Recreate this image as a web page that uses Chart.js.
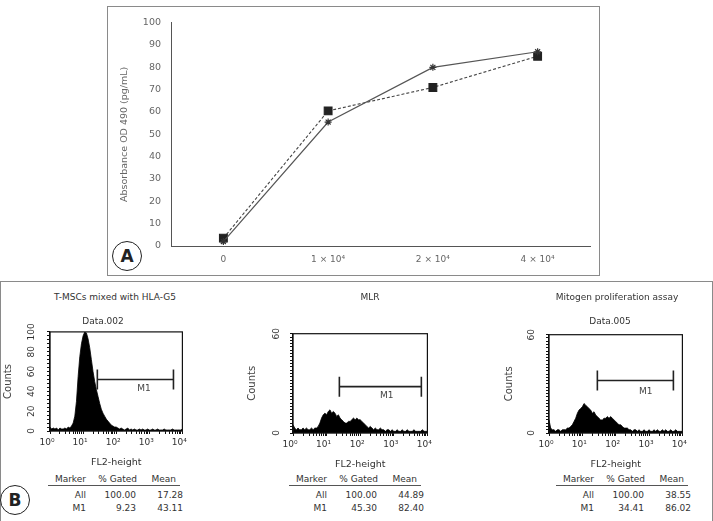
<!DOCTYPE html>
<html>
<head>
<meta charset="utf-8">
<script src="https://cdn.jsdelivr.net/npm/chart.js@4.4.1/dist/chart.umd.min.js"></script>
<style>
  body { margin: 0; background: #fff; }
  #fig { position: relative; width: 713px; height: 521px; overflow: hidden; font-family: "DejaVu Sans", sans-serif; color: #333; background: #fff; }
  canvas { position: absolute; }
  .box { position: absolute; border: 1px solid #8a8a8a; }
  .circ { position: absolute; width: 28px; height: 28px; border: 1.5px solid #222; border-radius: 50%; font: bold 17px "DejaVu Sans", sans-serif; text-align: center; line-height: 28px; color: #222; background: #fff; }
  .t { position: absolute; font-size: 9px; white-space: nowrap; transform: translate(-50%, -50%); }
  .r { position: absolute; font-size: 9px; white-space: nowrap; transform: translate(-100%, -50%); }
  .rule { position: absolute; height: 0; border-top: 1px solid #555; }
</style>
</head>
<body>
<div id="fig">
  <div class="box" style="left:107px;top:6px;width:491px;height:268px;"></div>
  <div class="box" style="left:0px;top:281px;width:711px;height:260px;"></div>

  <canvas id="chartA" width="490" height="267" style="left:108px;top:7px;"></canvas>
  <div class="circ" style="left:112px;top:241px;">A</div>

  <canvas id="histHLA" width="194" height="151" style="left:0px;top:320px;"></canvas>
  <canvas id="histMLR" width="196" height="152" style="left:243px;top:321px;"></canvas>
  <canvas id="histMito" width="195" height="152" style="left:499px;top:321px;"></canvas>

  <div class="t" style="left:115px;top:297px;">T-MSCs mixed with HLA-G5</div>
  <div class="t" style="left:103px;top:321px;">Data.002</div>
  <div class="t" style="left:370px;top:297px;">MLR</div>
  <div class="t" style="left:617px;top:297px;">Mitogen proliferation assay</div>
  <div class="t" style="left:610px;top:321px;">Data.005</div>

  <div id="tables"></div>
  <div class="circ" style="left:0px;top:485px;">B</div>
</div>

<script>
// Panel A: absorbance vs cell number
const doses = ['0', '1 × 10⁴', '2 × 10⁴', '4 × 10⁴'];
const absStar = [2, 55.5, 80, 87];
const absSquare = [3.5, 60.5, 71, 85];

// Panel B: flow histograms, bins every 0.05 decade from 10^0 to 10^4
const decadeLabels = ['10⁰', '10¹', '10²', '10³', '10⁴'];
const binStep = 0.05;
const countsHLA = [
  4, 2, 3, 2, 3, 1, 3, 2, 2, 3, 2, 4, 3, 5, 8, 15, 30, 55, 75, 88,
  96, 100, 99, 93, 84, 72, 60, 50, 42, 35, 28, 22, 18, 15, 12, 10, 8, 6, 5, 4,
  4, 3, 2, 3, 2, 1, 2, 3, 1, 2, 1, 2, 1, 1, 2, 1, 2, 1, 1, 2,
  1, 1, 2, 1, 1, 2, 1, 1, 1, 2, 1, 1, 1, 1, 2, 1, 1, 1, 1, 1, 2
];
const countsMLR = [
  5, 3, 2, 3, 2, 2, 3, 2, 3, 2, 2, 3, 2, 3, 3, 4, 6, 9, 11, 12,
  11, 13, 14, 12, 13, 12, 10, 11, 9, 8, 7, 6, 6, 7, 7, 8, 9, 8, 9, 8,
  8, 7, 6, 5, 4, 3, 4, 3, 2, 3, 2, 2, 3, 2, 2, 1, 2, 2, 1, 2,
  1, 1, 2, 1, 1, 2, 1, 1, 2, 1, 1, 1, 2, 1, 1, 1, 1, 2, 1, 1, 1
];
const countsMito = [
  8, 3, 2, 2, 1, 2, 2, 1, 2, 2, 2, 3, 3, 4, 5, 7, 9, 12, 14, 15,
  16, 18, 17, 16, 15, 14, 12, 13, 11, 10, 9, 8, 8, 9, 9, 10, 9, 10, 9, 8,
  7, 6, 5, 5, 4, 3, 3, 3, 2, 2, 1, 2, 2, 1, 2, 1, 1, 2, 1, 1,
  2, 1, 1, 2, 1, 2, 1, 1, 2, 1, 2, 1, 1, 2, 1, 1, 2, 1, 1, 1, 1
];
// M1 gate: [start decade, end decade, count level]
const gateHLA = [1.43, 3.73, 52];
const gateMLR = [1.38, 3.82, 28];
const gateMito = [1.45, 3.73, 32];
const statHeader = ['Marker', '% Gated', 'Mean'];
const statsHLA = [['All', '100.00', '17.28'], ['M1', '9.23', '43.11']];
const statsMLR = [['All', '100.00', '44.89'], ['M1', '45.30', '82.40']];
const statsMito = [['All', '100.00', '38.55'], ['M1', '34.41', '86.02']];

Chart.defaults.font.family = '"DejaVu Sans", sans-serif';

new Chart(document.getElementById('chartA'), {
  type: 'line',
  data: {
    labels: doses,
    datasets: [
      {
        data: absStar,
        borderColor: '#555',
        borderWidth: 1.2,
        pointStyle: 'star',
        pointRadius: 3.5,
        pointBorderColor: '#333',
        pointBorderWidth: 1.2,
        fill: false,
      },
      {
        data: absSquare,
        borderColor: '#444',
        borderWidth: 1.1,
        borderDash: [3, 2],
        pointStyle: 'rect',
        pointRadius: 5.5,
        pointBackgroundColor: '#222',
        pointBorderColor: '#222',
        fill: false,
      },
    ],
  },
  options: {
    responsive: false,
    devicePixelRatio: 1,
    animation: false,
    clip: false,
    layout: { padding: { top: 14, right: 8, bottom: 0, left: 0 } },
    plugins: { legend: { display: false }, tooltip: { enabled: false } },
    elements: { line: { tension: 0 } },
    scales: {
      x: {
        offset: true,
        grid: { display: false, drawTicks: false },
        border: { color: '#555' },
        ticks: { color: '#666', font: { size: 9 }, padding: 8 },
        afterFit(s) { s.height = 28; },
      },
      y: {
        min: 0,
        max: 100,
        grid: { display: false, drawTicks: false },
        border: { color: '#555' },
        ticks: { stepSize: 10, color: '#666', font: { size: 9.5 }, padding: 10 },
        title: { display: true, text: 'Absorbance OD 490 (pg/mL)', color: '#666', font: { size: 9.5 }, padding: { top: 11 } },
        afterFit(s) { s.width = 63; },
      },
    },
  },
});

// box round the plot area and the M1 text
const histExtras = {
  id: 'histExtras',
  afterDraw(chart, args, opts) {
    const { ctx, chartArea: a, scales } = chart;
    ctx.save();
    ctx.strokeStyle = '#111';
    ctx.lineWidth = 1.2;
    ctx.strokeRect(a.left, a.top, a.right - a.left, a.bottom - a.top);
    ctx.fillStyle = '#444';
    ctx.font = '9px "DejaVu Sans", sans-serif';
    ctx.textAlign = 'center';
    ctx.textBaseline = 'middle';
    ctx.fillText('M1', scales.x.getPixelForValue(opts.x), scales.y.getPixelForValue(opts.y));
    ctx.restore();
  },
};

function makeHist(id, counts, gate, yMax, yMinor, yMajor, labelPad, titlePad, m1Text) {
  new Chart(document.getElementById(id), {
    type: 'line',
    data: {
      datasets: [
        {
          data: [{ x: gate[0], y: gate[2] }, { x: gate[1], y: gate[2] }],
          borderColor: '#222',
          borderWidth: 1.6,
          pointStyle: 'line',
          rotation: 90,
          pointRadius: 10,
          pointBorderColor: '#222',
          pointBorderWidth: 1.6,
          fill: false,
        },
        {
          data: counts.map((c, i) => ({ x: i * binStep, y: c })),
          borderColor: '#000',
          borderWidth: 0.8,
          backgroundColor: '#000',
          pointRadius: 0,
          fill: 'origin',
        },
      ],
    },
    options: {
      responsive: false,
      devicePixelRatio: 1,
      animation: false,
      layout: { padding: { top: 11, right: 10, bottom: 0, left: 0 } },
      plugins: { legend: { display: false }, tooltip: { enabled: false }, histExtras: m1Text },
      elements: { line: { tension: 0 } },
      scales: {
        x: {
          type: 'linear',
          min: 0,
          max: 4,
          grid: { display: true, drawOnChartArea: false, drawTicks: true, tickLength: 3, color: '#111' },
          border: { color: '#111', width: 1.2 },
          afterBuildTicks(s) {
            const t = [];
            for (let d = 0; d < 4; d++) {
              for (let k = 1; k < 10; k++) t.push({ value: d + Math.log10(k) });
            }
            t.push({ value: 4 });
            s.ticks = t;
          },
          ticks: {
            autoSkip: false,
            maxRotation: 0,
            color: '#333',
            font: { size: 9 },
            padding: 3,
            labelOffset: -3,
            callback: (v) => (Number.isInteger(v) ? decadeLabels[v] : ''),
          },
          title: { display: true, text: 'FL2-height', color: '#333', font: { size: 9.5 }, padding: { bottom: 3 } },
          afterFit(s) { s.height = 40; },
        },
        y: {
          min: 0,
          max: yMax,
          grid: { display: true, drawOnChartArea: false, drawTicks: true, tickLength: 3, color: '#111' },
          border: { color: '#111', width: 1.2 },
          ticks: {
            stepSize: yMinor,
            autoSkip: false,
            minRotation: 90,
            maxRotation: 90,
            crossAlign: 'center',
            color: '#333',
            font: { size: 9 },
            padding: labelPad,
            callback: (v) => (v % yMajor === 0 ? String(v) : ''),
          },
          title: { display: true, text: 'Counts', color: '#444', font: { size: 10 }, padding: { top: titlePad } },
          afterFit(s) { s.width = 50; },
        },
      },
    },
    plugins: [histExtras],
  });
}

makeHist('histHLA', countsHLA, gateHLA, 100, 4, 20, 6.5, 2, { x: 2.84, y: 43 });
makeHist('histMLR', countsMLR, gateMLR, 60, 2, 60, 7.3, 3, { x: 2.79, y: 22.5 });
makeHist('histMito', countsMito, gateMito, 60, 2, 60, 8.3, 4, { x: 2.9, y: 25.5 });

// gated statistics tables under each histogram
function statTable(left, rows) {
  const host = document.getElementById('tables');
  const cols = [38, 88, 135];
  const headRight = [38, 89, 128];
  let html = '';
  statHeader.forEach((h, j) => {
    html += `<div class="r" style="left:${left + headRight[j]}px;top:479px;">${h}</div>`;
  });
  html += `<div class="rule" style="left:${left}px;top:485px;width:132px;"></div>`;
  rows.forEach((row, i) => {
    row.forEach((cell, j) => {
      html += `<div class="r" style="left:${left + cols[j]}px;top:${495 + i * 13}px;">${cell}</div>`;
    });
  });
  host.insertAdjacentHTML('beforeend', html);
}
statTable(48, statsHLA);
statTable(289, statsMLR);
statTable(556, statsMito);
</script>
</body>
</html>
